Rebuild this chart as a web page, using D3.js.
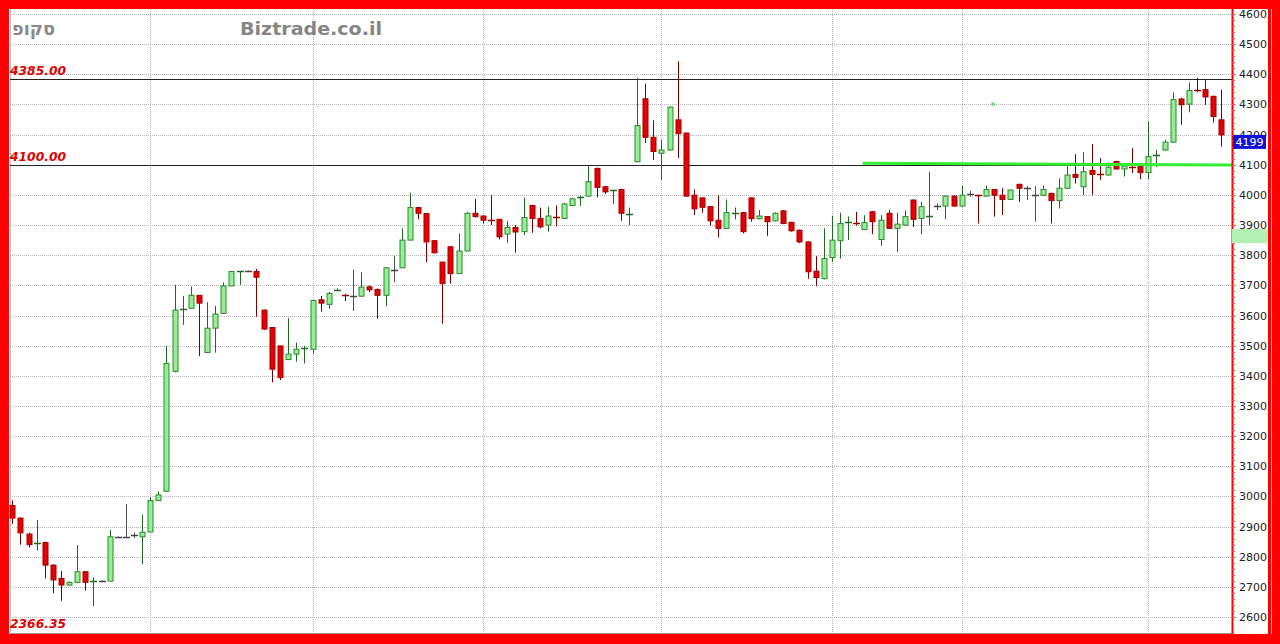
<!DOCTYPE html>
<html><head><meta charset="utf-8">
<script src="https://cdn.jsdelivr.net/npm/d3@7"></script>
<style>html,body{margin:0;padding:0;background:#fff;}svg{display:block;}</style>
</head><body>
<svg id="chart" width="1280" height="644"></svg>
<script>
const opens  = [2970,2928,2875,2843,2847,2772,2728,2706,2715,2750,2718,2720,2719,2866,2866,2872,2866,2882,2986,3017,3415,3616,3624,3667,3477,3558,3607,3698,3746,3747,3746,3618,3560,3499,3454,3472,3490,3488,3652,3637,3683,3670,3665,3664,3695,3686,3667,3750,3758,3850,3958,3938,3848,3777,3828,3739,3814,3939,3930,3918,3919,3870,3892,3878,3965,3922,3900,3930,3922,3965,3990,3996,4088,4027,4014,4018,3935,4110,4319,4191,4138,4149,4249,4205,3999,3990,3961,3916,3889,3938,3941,3990,3921,3928,3914,3947,3909,3883,3844,3747,3722,3792,3848,3909,3911,3885,3944,3852,3939,3889,3900,3983,3922,3930,3963,3963,3996,3963,4002,4000,3996,4018,3999,3985,4035,4022,3999,3999,4005,3981,4022,4068,4027,4081,4069,4066,4111,4086,4095,4094,4074,4127,4149,4175,4318,4301,4350,4349,4327,4249];
const highs  = [2987,2930,2880,2922,2850,2775,2753,2718,2839,2752,2731,2722,2889,2867,2975,2881,2939,2997,3016,3500,3702,3665,3696,3668,3644,3632,3710,3748,3748,3749,3755,3620,3562,3500,3591,3510,3499,3652,3665,3678,3690,3672,3752,3743,3700,3690,3760,3797,3889,4007,3960,3940,3850,3779,3830,3872,3944,3987,3932,3999,3920,3914,3900,3991,3967,3958,3961,3965,3974,3990,3998,4096,4090,4030,4017,4020,3958,4388,4369,4247,4183,4293,4443,4207,4018,3992,3963,3999,3985,3958,3943,3992,3950,3930,3942,3950,3911,3885,3846,3797,3889,3930,3941,3928,3944,3933,3946,3933,3950,3941,3948,3985,3977,4077,3972,3998,3999,4030,4013,4001,4031,4020,4022,4018,4037,4030,4030,4032,4007,4055,4099,4135,4142,4169,4122,4107,4113,4098,4155,4096,4244,4149,4183,4340,4322,4373,4388,4380,4329,4349];
const lows   = [2909,2840,2831,2820,2728,2679,2654,2704,2712,2687,2636,2718,2719,2865,2866,2862,2776,2882,2986,3017,3411,3569,3624,3465,3477,3477,3607,3698,3702,3745,3596,3552,3378,3386,3452,3447,3441,3474,3613,3622,3682,3648,3615,3662,3678,3589,3631,3711,3758,3850,3919,3777,3806,3573,3706,3739,3814,3925,3905,3900,3852,3841,3808,3867,3874,3889,3878,3896,3920,3963,3963,3994,3992,4003,3970,3914,3900,4108,4172,4116,4050,4147,4122,3994,3933,3941,3898,3859,3887,3919,3872,3911,3919,3864,3912,3903,3878,3840,3722,3697,3720,3778,3789,3850,3898,3884,3870,3831,3887,3811,3898,3894,3870,3900,3950,3919,3961,3961,3994,3905,3994,3928,3933,3983,3977,3983,3911,3997,3905,3955,4020,4038,3999,3999,4050,4064,4084,4061,4072,4052,4052,4092,4147,4173,4233,4274,4340,4299,4240,4160];
const closes = [2928,2879,2840,2847,2772,2723,2706,2715,2750,2715,2722,2720,2866,2866,2866,2872,2881,2986,3005,3441,3618,3624,3667,3641,3558,3605,3698,3746,3748,3747,3727,3555,3422,3394,3472,3488,3492,3650,3641,3673,3687,3664,3665,3694,3685,3667,3758,3750,3850,3958,3939,3844,3808,3706,3739,3814,3939,3928,3916,3914,3861,3892,3877,3925,3922,3894,3930,3922,3970,3987,3996,4044,4025,4010,4016,3939,3937,4230,4191,4144,4149,4291,4203,3996,3954,3959,3914,3889,3941,3940,3878,3921,3930,3911,3939,3905,3881,3844,3745,3726,3789,3850,3905,3911,3903,3908,3911,3916,3889,3903,3928,3919,3961,3932,3963,3996,3963,3999,4002,3998,4018,3999,3985,4016,4022,4022,3999,4018,3981,4022,4066,4058,4077,4068,4067,4092,4086,4096,4093,4074,4127,4135,4175,4316,4299,4346,4348,4325,4260,4199];

const yTicks = [2600,2700,2800,2900,3000,3100,3200,3300,3400,3500,3600,3700,3800,3900,4000,4100,4200,4300,4400,4500,4600];
const gridIndices = [17,37,58,80,101,117,140];
const levelValues = [4385,4100];
const levelLabels = ["4385.00","4100.00"];
const lowLabel = "2366.35";
const trendPoints = [[104.8,4105],[150.3,4099]];
const markerPoint = [120.85,4301];
const lastPrice = 4199;
const zoneValues = [3887,3840];
const titleText = "Biztrade.co.il";
const nameText = "סקופ";

const svg = d3.select("#chart");
const W = 1280, H = 644;
const plotL = 10, plotR = 1232, plotT = 9, plotB = 633;

const n = opens.length;
const x = d3.scaleLinear().domain([0, n - 1]).range([12.3, 1221.4]);
const y = d3.scaleLinear().domain([2600, 4600]).range([617, 14]);

// frame
svg.append("rect").attr("width", W).attr("height", H).attr("fill", "#ff0000");
svg.append("rect").attr("x", 9).attr("y", 9).attr("width", 1259).attr("height", 625).attr("fill", "#ffffff");
svg.append("line").attr("x1", 1271.5).attr("x2", 1271.5).attr("y1", 9).attr("y2", 634).attr("stroke", "#ffb0b0").attr("stroke-width", 1);
svg.append("line").attr("x1", plotL + 0.5).attr("x2", plotL + 0.5).attr("y1", plotT).attr("y2", plotB).attr("stroke", "#bbbbbb");
svg.append("line").attr("x1", plotL).attr("x2", plotR).attr("y1", plotB + 0.5).attr("y2", plotB + 0.5).attr("stroke", "#999999");

// grid
const grid = svg.append("g");
grid.selectAll("line.h").data(yTicks).join("line")
  .attr("x1", plotL).attr("x2", plotR + 4)
  .attr("y1", d => Math.round(y(d)) + 0.5).attr("y2", d => Math.round(y(d)) + 0.5)
  .attr("stroke", "#b8b8b8").attr("stroke-dasharray", "1,1");
grid.selectAll("line.v").data(gridIndices).join("line")
  .attr("x1", d => Math.round(x(d)) + 0.5).attr("x2", d => Math.round(x(d)) + 0.5)
  .attr("y1", plotT).attr("y2", plotB)
  .attr("stroke", "#b8b8b8").attr("stroke-dasharray", "1,1");

// level lines
svg.selectAll("line.level").data(levelValues).join("line")
  .attr("x1", plotL).attr("x2", plotR)
  .attr("y1", d => Math.round(y(d)) + 0.5).attr("y2", d => Math.round(y(d)) + 0.5)
  .attr("stroke", "#222").attr("stroke-width", 1);

// texts
svg.append("text").attr("x", 12).attr("y", 35)
  .attr("font-family", "DejaVu Sans").attr("font-weight", "bold").attr("font-size", 18)
  .attr("textLength", 43).attr("lengthAdjust", "spacingAndGlyphs")
  .attr("fill", "#8a8a8a").text(nameText);
svg.append("text").attr("x", 240).attr("y", 35)
  .attr("font-family", "DejaVu Sans").attr("font-weight", "bold").attr("font-size", 18)
  .attr("textLength", 142).attr("lengthAdjust", "spacingAndGlyphs")
  .attr("fill", "#858585").text(titleText);

svg.selectAll("text.lvl").data(levelValues).join("text")
  .attr("x", 10).attr("y", d => y(d) - 4)
  .attr("font-family", "DejaVu Sans").attr("font-weight", "bold").attr("font-style", "italic")
  .attr("font-size", 13).attr("textLength", 56).attr("lengthAdjust", "spacingAndGlyphs")
  .attr("fill", "#e00000").text((d, i) => levelLabels[i]);
svg.append("text").attr("x", 10).attr("y", y(2600) + 11)
  .attr("font-family", "DejaVu Sans").attr("font-weight", "bold").attr("font-style", "italic")
  .attr("font-size", 13).attr("textLength", 56).attr("lengthAdjust", "spacingAndGlyphs")
  .attr("fill", "#e00000").text(lowLabel);

// candles
const candles = svg.append("g");
const bw = 5;
for (let i = 0; i < n; i++) {
  const o = opens[i], h = highs[i], l = lows[i], c = closes[i];
  const cx = Math.round(x(i)) + 0.5;
  const up = c > o, flat = c === o;
  const wickCol = flat ? "#555555" : (up ? "#1e6b1e" : "#7a0000");
  candles.append("line").attr("x1", cx).attr("x2", cx)
    .attr("y1", y(h)).attr("y2", y(l)).attr("stroke", wickCol).attr("stroke-width", 1);
  const top = y(Math.max(o, c)), bot = y(Math.min(o, c));
  if (bot - top < 2.5) {
    candles.append("line").attr("x1", cx - 3.5).attr("x2", cx + 3.5)
      .attr("y1", Math.round((top + bot) / 2) + 0.5).attr("y2", Math.round((top + bot) / 2) + 0.5)
      .attr("stroke", flat ? "#444444" : (up ? "#1e6b1e" : "#a00000")).attr("stroke-width", 1.5);
  } else {
    candles.append("rect").attr("x", cx - bw / 2).attr("y", top)
      .attr("width", bw).attr("height", bot - top)
      .attr("fill", up ? "#96ee96" : "#e60000")
      .attr("stroke", up ? "#2a8a2a" : "#a00000").attr("stroke-width", 1);
  }
}

// trend line and marker
svg.append("path").datum(trendPoints)
  .attr("d", d3.line().x(d => x(d[0])).y(d => y(d[1])))
  .attr("stroke", "#33ee33").attr("stroke-width", 3).attr("fill", "none");
svg.append("circle").attr("cx", x(markerPoint[0])).attr("cy", y(markerPoint[1])).attr("r", 1.8).attr("fill", "#55ee55");

// right axis
svg.append("line").attr("x1", plotR + 0.5).attr("x2", plotR + 0.5).attr("y1", plotT).attr("y2", 634)
  .attr("stroke", "#ff0000").attr("stroke-width", 2);
const minor = d3.range(2600, 4601, 20);
svg.selectAll("line.minor").data(minor).join("line")
  .attr("x1", plotR).attr("x2", plotR + 3)
  .attr("y1", d => Math.round(y(d)) + 0.5).attr("y2", d => Math.round(y(d)) + 0.5)
  .attr("stroke", "#ff4040").attr("stroke-width", 1);
const axis = d3.axisRight(y).tickValues(yTicks).tickSize(4).tickPadding(2).tickFormat(d3.format("d"));
const ag = svg.append("g").attr("transform", `translate(${plotR + 1},0)`).call(axis);
ag.select(".domain").remove();
ag.selectAll(".tick line").attr("stroke", "#999").attr("stroke-dasharray", "1,1");
ag.selectAll(".tick text").attr("font-family", "DejaVu Sans").attr("font-size", 11).attr("fill", "#222");

// price box and zone
svg.append("rect").attr("x", plotR).attr("y", y(zoneValues[0])).attr("width", 36)
  .attr("height", y(zoneValues[1]) - y(zoneValues[0])).attr("fill", "#b4f2b4");
svg.append("rect").attr("x", plotR + 1).attr("y", y(lastPrice)).attr("width", 33).attr("height", 14).attr("fill", "#1010d8");
svg.append("text").attr("x", plotR + 17.5).attr("y", y(lastPrice) + 11).attr("text-anchor", "middle")
  .attr("font-family", "DejaVu Sans").attr("font-size", 11).attr("fill", "#fff").text(lastPrice);
</script>
</body></html>
